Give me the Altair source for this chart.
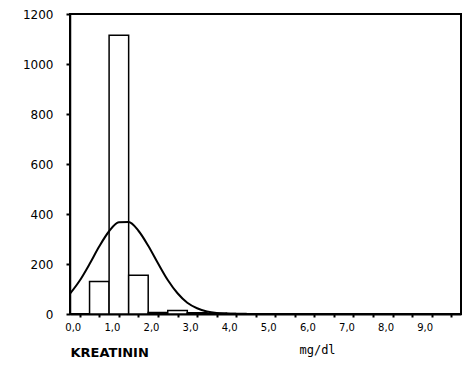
import altair as alt
import pandas as pd

# Histogram (bin centres, counts)
bin_centers = [0.5, 1.0, 1.5, 2.0, 2.5, 3.0, 3.5, 4.0]
bin_counts = [130, 1115, 155, 6, 14, 5, 3, 2]
bin_width = 0.5

# Fitted curve
curve_x = [-0.25, 0.0, 0.25, 0.5, 0.75, 1.0, 1.25, 1.5, 1.75, 2.0,
           2.25, 2.5, 2.75, 3.0, 3.25, 3.5, 3.75, 4.0]
curve_y = [81, 134, 200, 271, 331, 367, 368, 333, 273, 203,
           136, 83, 45, 23, 10, 4, 2, 1]

x_tick_values = [0.0, 0.5, 1.0, 1.5, 2.0, 2.5, 3.0, 3.5, 4.0, 4.5,
                 5.0, 5.5, 6.0, 6.5, 7.0, 7.5, 8.0, 8.5, 9.0, 9.5]
y_tick_values = [0, 200, 400, 600, 800, 1000, 1200]

bars_df = pd.DataFrame({"center": bin_centers, "count": bin_counts})
bars_df["start"] = bars_df["center"] - bin_width / 2
bars_df["end"] = bars_df["center"] + bin_width / 2
curve_df = pd.DataFrame({"x": curve_x, "y": curve_y})

xs = alt.Scale(domain=[-0.25, 9.75], nice=False, zero=False)
ys = alt.Scale(domain=[0, 1200], nice=False)

x_axis = alt.Axis(
    values=x_tick_values,
    labelExpr="datum.value % 1 == 0 ? replace(format(datum.value, '.1f'), '.', ',') : ''",
    grid=False, domainColor="black", domainWidth=2,
    tickColor="black", tickWidth=2, tickSize=3,
    labelFont="DejaVu Sans", labelFontSize=10, labelColor="black",
    labelPadding=5, labelOffset=-7, labelFlush=False,
    title="KREATININ", titleFont="DejaVu Sans", titleFontSize=13,
    titleFontWeight="bold", titleColor="black",
    titleX=0, titleY=38, titleAlign="left", titleBaseline="middle",
)
y_axis = alt.Axis(
    values=y_tick_values, format="d", grid=False,
    domainColor="black", domainWidth=1.5,
    tickColor="black", tickWidth=2, tickSize=4,
    labelFont="DejaVu Sans", labelFontSize=12, labelColor="black",
    labelPadding=13, title=None,
)

bars = alt.Chart(bars_df).mark_bar(
    fill="white", stroke="black", strokeWidth=1.5
).encode(
    x=alt.X("start:Q", scale=xs, axis=x_axis),
    x2="end:Q",
    y=alt.Y("count:Q", scale=ys, axis=y_axis),
    y2=alt.datum(0),
)

curve = alt.Chart(curve_df).mark_line(
    color="black", strokeWidth=2, interpolate="monotone"
).encode(
    x=alt.X("x:Q", scale=xs, axis=x_axis),
    y=alt.Y("y:Q", scale=ys, axis=y_axis),
)

chart = alt.layer(bars, curve).properties(
    width=391, height=300,
    padding={"left": 70, "top": 14, "right": 4, "bottom": 64},
    autosize=alt.AutoSizeParams(type="none"),
    title=alt.TitleParams(
        text="mg/dl", orient="bottom", anchor="start", dx=277, dy=-18,
        font="DejaVu Sans Mono", fontSize=12, fontWeight="normal", color="black",
    ),
    background="white",
).configure_view(stroke="black", strokeWidth=2)

chart.save("out.html", embed_options={"renderer": "svg", "actions": False})
